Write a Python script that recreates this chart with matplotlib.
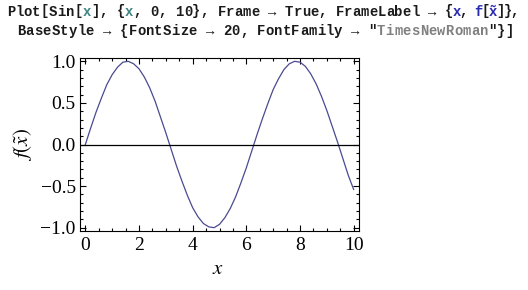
import numpy as np
import matplotlib
matplotlib.use("Agg")
import matplotlib.pyplot as plt
from matplotlib.ticker import MultipleLocator

plt.rcParams['mathtext.fontset'] = 'stix'

# sin(x) values, x from 0 to 10 in steps of 0.2
x_vals = [0.0, 0.2, 0.4, 0.6, 0.8, 1.0, 1.2, 1.4, 1.6, 1.8,
          2.0, 2.2, 2.4, 2.6, 2.8, 3.0, 3.2, 3.4, 3.6, 3.8,
          4.0, 4.2, 4.4, 4.6, 4.8, 5.0, 5.2, 5.4, 5.6, 5.8,
          6.0, 6.2, 6.4, 6.6, 6.8, 7.0, 7.2, 7.4, 7.6, 7.8,
          8.0, 8.2, 8.4, 8.6, 8.8, 9.0, 9.2, 9.4, 9.6, 9.8, 10.0]
y_vals = [0.00, 0.20, 0.39, 0.56, 0.72, 0.84, 0.93, 0.99, 1.00, 0.97,
          0.91, 0.81, 0.68, 0.52, 0.33, 0.14, -0.06, -0.26, -0.44, -0.61,
          -0.76, -0.87, -0.95, -0.99, -1.00, -0.96, -0.88, -0.77, -0.63, -0.46,
          -0.28, -0.08, 0.12, 0.31, 0.49, 0.66, 0.79, 0.90, 0.97, 1.00,
          0.99, 0.94, 0.85, 0.73, 0.58, 0.41, 0.22, 0.03, -0.17, -0.37, -0.54]

xticks = [0, 2, 4, 6, 8, 10]
xtick_labels = ["0", "2", "4", "6", "8", "10"]
yticks = [-1.0, -0.5, 0.0, 0.5, 1.0]
ytick_labels = ["\u22121.0", "\u22120.5", "0.0", "0.5", "1.0"]

W, H = 528, 290
fig = plt.figure(figsize=(W / 100, H / 100), dpi=100)
fig.patch.set_facecolor('white')

# --- Mathematica input cell on top ---
k = '#1a1a1a'
teal = '#3f8585'
blue = '#2a2ab0'
gray = '#808080'
code_font = dict(family=['Liberation Mono', 'DejaVu Sans Mono'], weight='bold', size=10)

# runs of (start px, char pitch px, baseline px, [(text, colour), ...])
runs = [
    (7, 8.42, 15.5, [("Plot[Sin[", k), ("x", teal), ("], {", k), ("x", teal),
                     (", 0, 10}, Frame \u2192 True, FrameLabel \u2192 ", k)]),
    (445, 7.3, 15.5, [("{", k), ("x", blue), (", ", k), ("f", blue), ("[", k),
                      ("X", blue), ("]},", k)]),
    (17, 8.57, 35, [("BaseStyle \u2192 {FontSize \u2192 20, FontFamily \u2192 ", k),
                    ('"', k), ("TimesNewRoman", gray), ('"}]', k)]),
]

for x0, pitch, base_y, pieces in runs:
    i = 0
    for txt, col in pieces:
        for ch in txt:
            px = x0 + i * pitch
            i += 1
            if ch == ' ':
                continue
            if ch == 'X':   # x with tilde over it
                fig.text(px / W, 1 - base_y / H, 'x', color=col, ha='left',
                         va='baseline', **code_font)
                fig.text(px / W, 1 - base_y / H, '\u02dc', color=col, ha='left',
                         va='baseline', **code_font)
                continue
            fig.text(px / W, 1 - base_y / H, ch, color=col, ha='left',
                     va='baseline', **code_font)

# --- framed plot ---
left, right, top, bottom = 80, 359, 58, 231
ax = fig.add_axes([left / W, 1 - bottom / H, (right - left) / W, (bottom - top) / H])

ax.plot(x_vals, y_vals, color='#4a4a92', lw=0.9)
ax.axhline(0, color='black', lw=0.9)

ax.set_xlim(-0.2, 10.2)
ax.set_ylim(-1.04, 1.04)

ax.set_xticks(xticks)
ax.set_xticklabels(xtick_labels)
ax.set_yticks(yticks)
ax.set_yticklabels(ytick_labels)
ax.xaxis.set_minor_locator(MultipleLocator(0.5))
ax.yaxis.set_minor_locator(MultipleLocator(0.1))

ax.tick_params(which='both', direction='in', top=True, right=True, color='black', width=0.8)
ax.tick_params(which='major', length=4.5)
ax.tick_params(which='minor', length=2.5)
ax.tick_params(axis='x', pad=4)
ax.tick_params(axis='y', pad=3)
for lab in ax.get_xticklabels() + ax.get_yticklabels():
    lab.set_family(['Liberation Serif', 'DejaVu Serif'])
    lab.set_fontsize(14)
for sp in ax.spines.values():
    sp.set_linewidth(0.8)
    sp.set_color('black')

# frame labels
fig.text(218 / W, 1 - 268 / H, r'$x$', fontsize=15, ha='center', va='center')
fig.text(22 / W, 1 - 145 / H, r'$f(\tilde{x})$', fontsize=15, rotation=90,
         ha='center', va='center')

fig.savefig('out.png', dpi=100, facecolor='white')
